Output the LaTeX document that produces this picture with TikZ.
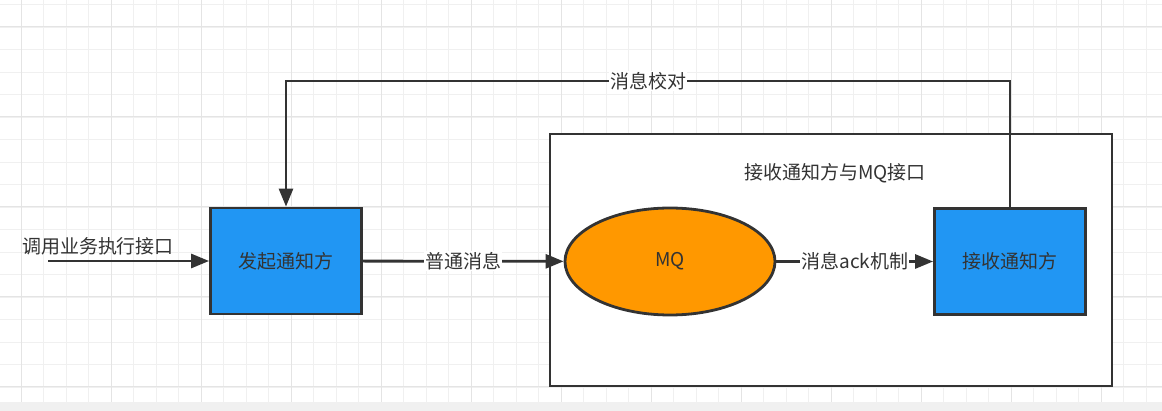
\documentclass[tikz,border=0pt]{standalone}
\usepackage{fontspec}
\setmainfont{Noto Sans CJK SC}
\usepackage{tikz}
\usetikzlibrary{arrows.meta,shapes.geometric}

\definecolor{notifyblue}{RGB}{33,150,243}
\definecolor{mqorange}{RGB}{255,152,0}
\definecolor{linegray}{RGB}{51,51,51}
\definecolor{gridminor}{RGB}{240,240,240}
\definecolor{gridmajor}{RGB}{228,228,228}

\begin{document}
\begin{tikzpicture}[x=1pt,y=-1pt,>={Triangle[length=18pt,width=14pt]}]

  %Styles for picture
  \tikzset
  {
  partybox/.style={rectangle, draw=linegray, line width=2.8pt, fill=notifyblue, minimum width=151pt, minimum height=106pt, inner sep=0pt},
  mqellipse/.style={ellipse, draw=linegray, line width=2.8pt, fill=mqorange, minimum width=210pt, minimum height=107pt, inner sep=0pt},
  groupbox/.style={rectangle, draw=linegray, line width=2.8pt, fill=white, minimum width=562pt, minimum height=252pt, inner sep=0pt},
  flow/.style={draw=linegray, line width=2.8pt},
  edgelabel/.style={fill=white, inner sep=1pt, text=linegray},
  every node/.style={font=\fontsize{19}{22}\selectfont, text=linegray},
  }

  \useasboundingbox (0,0) rectangle (1162,411);

  % Grid
  \fill[white] (0,0) rectangle (1162,411);
  \foreach \k in {0,...,51}
    \draw[gridminor, line width=1pt] ({-1.5+22.5*\k},0) -- ({-1.5+22.5*\k},402);
  \foreach \k in {0,...,17}
    \draw[gridminor, line width=1pt] (0,{5+22.5*\k}) -- (1162,{5+22.5*\k});
  \foreach \k in {0,...,12}
    \draw[gridmajor, line width=1pt] ({21+90*\k},0) -- ({21+90*\k},402);
  \foreach \k in {0,...,4}
    \draw[gridmajor, line width=1pt] (0,{27+90*\k}) -- (1162,{27+90*\k});
  \fill[gridminor] (0,402) rectangle (1162,411);

  % Nodes
  \node[groupbox] (group) at (831,260) {};
  \node (grouptitle) at (835,173) {接收通知方与MQ接口};
  \node[partybox] (sender) at (286,261) {发起通知方};
  \node[mqellipse] (mq) at (670,261.5) {MQ};
  \node[partybox] (receiver) at (1010,261.5) {接收通知方};
  \coordinate (caller) at (48,261);
  \node (callerlabel) at (98,246) {调用业务执行接口};

  % Edges
  \draw[flow,->] (caller) -- (sender);
  \draw[flow,->] (sender) -- node[edgelabel] {普通消息} (mq);
  \draw[flow,->] (mq) -- node[edgelabel] {消息ack机制} (receiver);
  \draw[flow,->] (receiver.north) -- ++(0,-126) -| node[edgelabel, pos=0.25] {消息校对} (sender.north); % feedback
\end{tikzpicture}
\end{document}
